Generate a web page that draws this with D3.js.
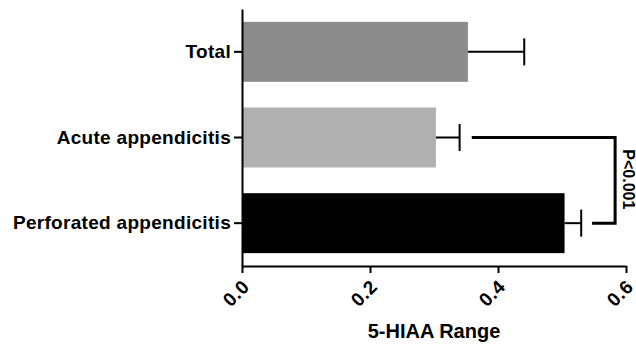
<!DOCTYPE html>
<html>
<head>
<meta charset="utf-8">
<script src="https://cdn.jsdelivr.net/npm/d3@7"></script>
<style>
  body { margin: 0; background: #fff; }
  text { font-family: "Liberation Sans", Arial, sans-serif; font-weight: bold; fill: #000; }
</style>
</head>
<body>
<script>
const w = 636;
const h = 346;

const categories = ["Total", "Acute appendicitis", "Perforated appendicitis"];
const means = [0.353, 0.303, 0.504];
const errors = [0.441, 0.340, 0.530];
const barColors = ["#8c8c8c", "#b0b0b0", "#000000"];
const xTicks = [0.0, 0.2, 0.4, 0.6];
const sigPair = ["Acute appendicitis", "Perforated appendicitis"];
const sigStarts = [0.359, 0.547];
const sigEdge = 0.583;
const sigLabel = "P<0.001";

const dataset = categories.map((c, i) => ({name: c, mean: means[i], err: errors[i], color: barColors[i]}));

const xScale = d3.scaleLinear()
                 .domain([0, 0.6])
                 .range([242, 626]);

const yScale = d3.scaleBand()
                 .domain(categories)
                 .range([9, 266])
                 .paddingInner(0.3)
                 .paddingOuter(0.15);

const svg = d3.select("body")
              .append("svg")
              .attr("width", w)
              .attr("height", h);

svg.selectAll("rect.bar")
   .data(dataset)
   .enter()
   .append("rect")
   .attr("class", "bar")
   .attr("x", xScale(0))
   .attr("y", d => yScale(d.name))
   .attr("width", d => xScale(d.mean) - xScale(0))
   .attr("height", yScale.bandwidth())
   .attr("fill", d => d.color);

// error bars
const eb = svg.selectAll("g.err")
   .data(dataset)
   .enter()
   .append("g")
   .attr("class", "err");

eb.append("line")
  .attr("x1", d => xScale(d.mean))
  .attr("x2", d => xScale(d.err))
  .attr("y1", d => yScale(d.name) + yScale.bandwidth() / 2)
  .attr("y2", d => yScale(d.name) + yScale.bandwidth() / 2)
  .attr("stroke", "#000")
  .attr("stroke-width", 2);

eb.append("line")
  .attr("x1", d => xScale(d.err))
  .attr("x2", d => xScale(d.err))
  .attr("y1", d => yScale(d.name) + yScale.bandwidth() / 2 - 13.5)
  .attr("y2", d => yScale(d.name) + yScale.bandwidth() / 2 + 13.5)
  .attr("stroke", "#000")
  .attr("stroke-width", 2);

// significance bracket
const yA = yScale(sigPair[0]) + yScale.bandwidth() / 2;
const yB = yScale(sigPair[1]) + yScale.bandwidth() / 2;
svg.append("path")
   .attr("d", "M" + xScale(sigStarts[0]) + "," + yA +
              "H" + xScale(sigEdge) +
              "V" + yB +
              "H" + xScale(sigStarts[1]))
   .attr("fill", "none")
   .attr("stroke", "#000")
   .attr("stroke-width", 3);

svg.append("text")
   .text(sigLabel)
   .attr("text-anchor", "middle")
   .attr("font-size", "16px")
   .attr("transform", "translate(" + (xScale(sigEdge) + 8) + "," + ((yA + yB) / 2 - 1) + ") rotate(90)");

// axes
const xAxis = d3.axisBottom(xScale)
                .tickValues(xTicks)
                .tickFormat(d3.format(".1f"))
                .tickSize(7)
                .tickSizeOuter(0);

const yAxis = d3.axisLeft(yScale)
                .tickSize(8)
                .tickPadding(3)
                .tickSizeOuter(0);

const gx = svg.append("g")
   .attr("transform", "translate(0," + 266 + ")")
   .call(xAxis);

gx.selectAll("text")
  .attr("x", 0)
  .attr("y", 0)
  .attr("dy", 0)
  .attr("text-anchor", "end")
  .attr("font-size", "19px")
  .attr("letter-spacing", "0.5px")
  .attr("transform", "translate(8,22) rotate(-45)");

const gy = svg.append("g")
   .attr("transform", "translate(" + 242 + ",0)")
   .call(yAxis);

gy.selectAll("text")
  .attr("font-size", "19px")
  .attr("letter-spacing", "0.3px");

svg.selectAll(".domain, .tick line")
   .attr("stroke", "#000")
   .attr("stroke-width", 2);

svg.selectAll(".tick text").attr("fill", "#000").attr("font-family", null);

svg.append("text")
   .text("5-HIAA Range")
   .attr("text-anchor", "middle")
   .attr("font-size", "20px")
   .attr("x", (xScale(0) + xScale(0.6)) / 2)
   .attr("y", 338);
</script>
</body>
</html>
